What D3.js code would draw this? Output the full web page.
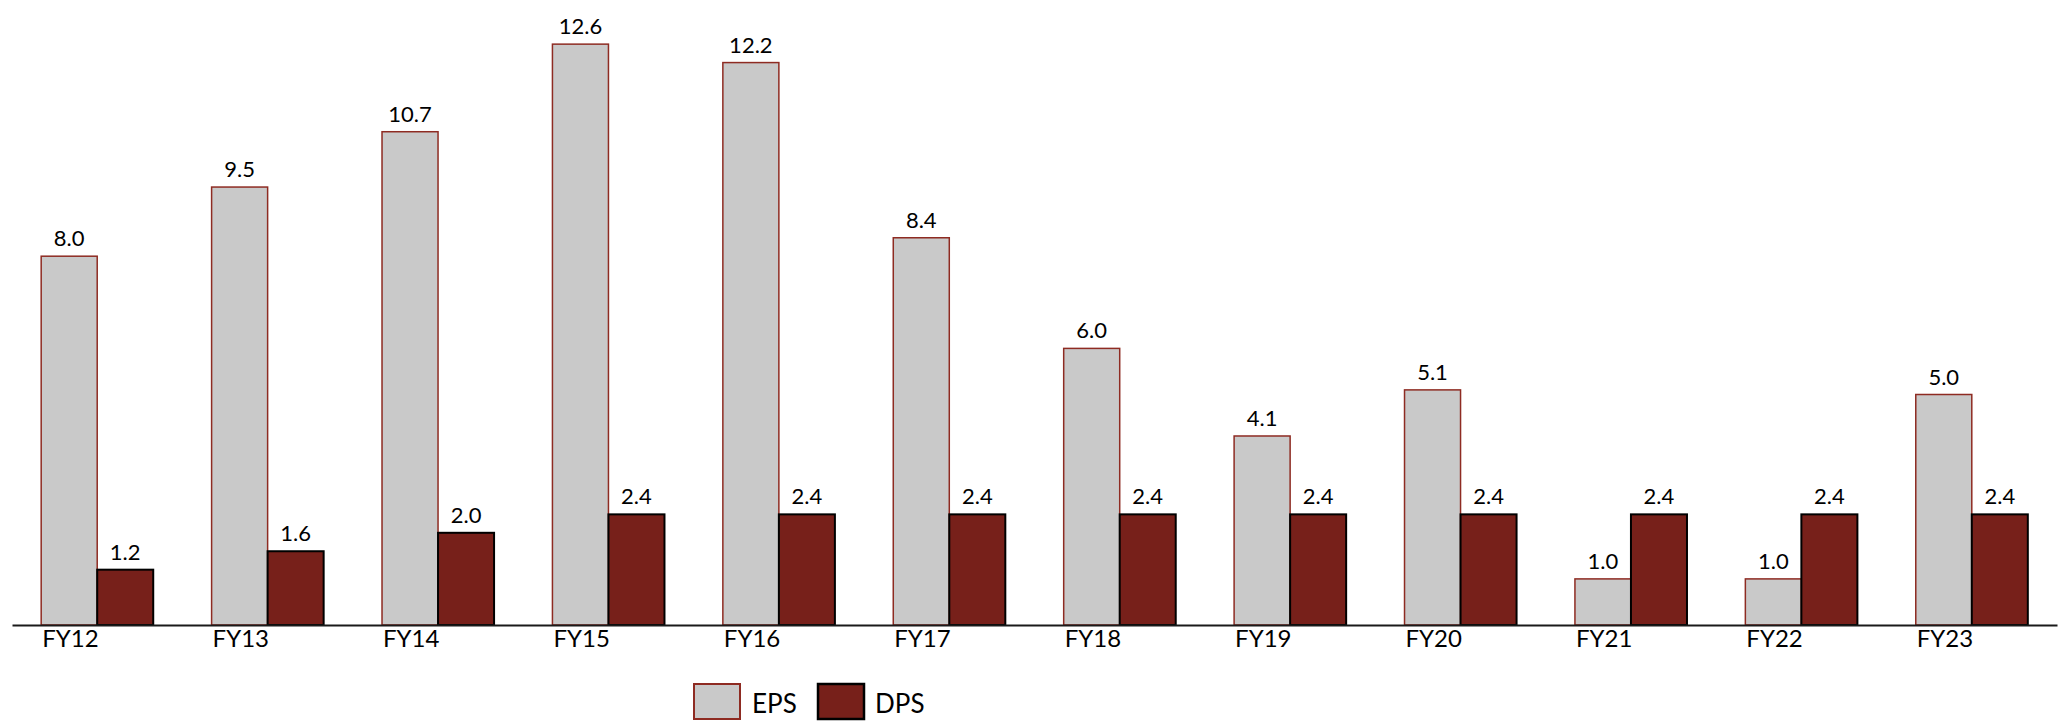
<!DOCTYPE html>
<html>
<head>
<meta charset="utf-8">
<script src="https://cdn.jsdelivr.net/npm/d3@7"></script>
<style>
  html, body { margin: 0; padding: 0; background: #fff; }
  svg { display: block; font-family: Lato, "Open Sans", sans-serif; }
</style>
</head>
<body>
<svg id="chart" width="2062" height="728"></svg>
<script>
const categories = ["FY12","FY13","FY14","FY15","FY16","FY17","FY18","FY19","FY20","FY21","FY22","FY23"];
const seriesNames = ["EPS","DPS"];
const epsValues = [8.0, 9.5, 10.7, 12.6, 12.2, 8.4, 6.0, 4.1, 5.1, 1.0, 1.0, 5.0];
const dpsValues = [1.2, 1.6, 2.0, 2.4, 2.4, 2.4, 2.4, 2.4, 2.4, 2.4, 2.4, 2.4];

const colors = {
  EPS: { fill: "#c9c9c9", stroke: "#8e2b22", sw: 1.5 },
  DPS: { fill: "#77201a", stroke: "#000000", sw: 2 }
};

const svg = d3.select("#chart");
const baseY = 625;

const x0 = d3.scaleBand().domain(categories).range([12, 2057]).padding(0);
const x1 = d3.scaleBand().domain(seriesNames).range([0, x0.bandwidth()])
  .paddingInner(0).paddingOuter(0.521);
const y = d3.scaleLinear().domain([0, 13.5]).range([baseY, baseY - 13.5 * 46.1]);

const rows = categories.map((c, i) => ({ cat: c, EPS: epsValues[i], DPS: dpsValues[i] }));

const groups = svg.append("g").selectAll("g").data(rows).join("g")
  .attr("transform", d => `translate(${x0(d.cat)},0)`);

groups.selectAll("rect").data(d => seriesNames.map(s => ({ s, v: d[s] }))).join("rect")
  .attr("x", d => x1(d.s))
  .attr("y", d => y(d.v))
  .attr("width", x1.bandwidth())
  .attr("height", d => y(0) - y(d.v))
  .attr("fill", d => colors[d.s].fill)
  .attr("stroke", d => colors[d.s].stroke)
  .attr("stroke-width", d => colors[d.s].sw);

groups.selectAll("text.val").data(d => seriesNames.map(s => ({ s, v: d[s] }))).join("text")
  .attr("class", "val")
  .attr("x", d => x1(d.s) + x1.bandwidth() / 2)
  .attr("y", d => y(d.v) - 10)
  .attr("text-anchor", "middle")
  .attr("font-size", 22)
  .attr("fill", "#000")
  .text(d => d3.format(".1f")(d.v));

// x axis
const axis = svg.append("g").attr("transform", `translate(0,${baseY})`)
  .call(d3.axisBottom(x0).tickSize(0).tickSizeOuter(0).tickPadding(0));
axis.select(".domain").attr("stroke", "#1a1a1a").attr("stroke-width", 2);
axis.selectAll(".tick text")
  .attr("x", -x0.bandwidth() / 2 + x1("EPS") + 1)
  .attr("y", 22)
  .attr("dy", 0)
  .attr("text-anchor", "start")
  .attr("font-family", "Lato, sans-serif")
  .attr("font-size", 24)
  .attr("fill", "#000");

// legend
const legend = svg.append("g");
const legendItems = [
  { s: "EPS", bx: 694, tx: 752 },
  { s: "DPS", bx: 818, tx: 875 }
];
legendItems.forEach(it => {
  legend.append("rect")
    .attr("x", it.bx).attr("y", 684).attr("width", 46).attr("height", 35)
    .attr("fill", colors[it.s].fill)
    .attr("stroke", colors[it.s].stroke)
    .attr("stroke-width", colors[it.s].sw + 0.5);
  legend.append("text")
    .attr("x", it.tx).attr("y", 713)
    .attr("font-size", 26)
    .attr("fill", "#000")
    .text(it.s);
});
</script>
</body>
</html>
